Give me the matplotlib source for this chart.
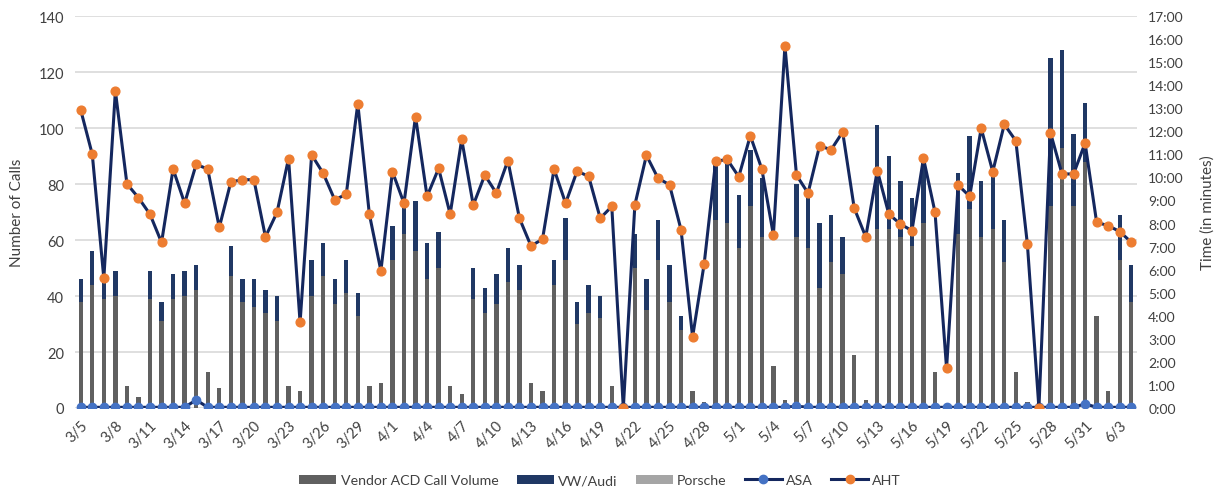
import numpy as np
import pandas as pd
import matplotlib
matplotlib.use("Agg")
import matplotlib.pyplot as plt
from matplotlib.patches import Patch
from matplotlib.lines import Line2D

plt.rcParams["font.family"] = ["Lato", "DejaVu Sans"]

# ── data ──────────────────────────────────────────────
dates = pd.date_range("2018-03-05", "2018-06-04", freq="D")
labels = [f"{d.month}/{d.day}" for d in dates]

# total calls per day (vendor + VW/Audi) and vendor part
total_calls = [46, 56, 46, 49, 8, 4, 49, 38, 48, 49, 51, 13, 7, 58, 46, 46, 42, 40, 8, 6,
               53, 59, 46, 53, 41, 8, 9, 65, 73, 74, 59, 63, 8, 5, 50, 43, 48, 57, 51, 9,
               6, 53, 68, 38, 44, 40, 8, 0, 62, 46, 67, 51, 33, 6, 2, 88, 89, 76, 92, 82,
               15, 3, 80, 77, 66, 69, 61, 19, 3, 101, 90, 81, 75, 88, 13, 0, 84, 97, 81, 85,
               67, 13, 2, 0, 125, 128, 98, 109, 33, 6, 69, 51]
vendor_acd = [38, 44, 39, 40, 8, 4, 39, 31, 39, 40, 42, 13, 7, 47, 38, 36, 34, 31, 8, 6,
              40, 47, 37, 41, 33, 8, 9, 53, 62, 56, 46, 50, 8, 5, 39, 34, 37, 45, 42, 9,
              6, 44, 53, 30, 34, 32, 8, 0, 50, 35, 53, 38, 28, 6, 2, 67, 66, 57, 72, 61,
              15, 3, 61, 57, 43, 52, 48, 19, 3, 64, 64, 61, 58, 66, 13, 0, 62, 71, 61, 64,
              52, 13, 2, 0, 72, 93, 72, 88, 33, 6, 53, 38]
porsche = [0] * len(total_calls)
vw_audi = [t - v for t, v in zip(total_calls, vendor_acd)]

# handle times in minutes
aht = [12.92, 11.0, 5.62, 13.75, 9.72, 9.12, 8.4, 7.18, 10.36, 8.88, 10.57, 10.36, 7.83, 9.8,
       9.9, 9.9, 7.42, 8.48, 10.82, 3.71, 10.98, 10.18, 9.03, 9.27, 13.2, 8.41, 5.95, 10.25,
       8.88, 12.64, 9.18, 10.39, 8.41, 11.65, 8.8, 10.1, 9.32, 10.73, 8.23, 7.03, 7.32, 10.36,
       8.88, 10.28, 10.04, 8.23, 8.74, 0.0, 8.81, 10.96, 9.97, 9.68, 7.73, 3.08, 6.24, 10.7,
       10.78, 10.03, 11.81, 10.36, 7.5, 15.7, 10.1, 9.32, 11.37, 11.2, 11.97, 8.67, 7.42,
       10.3, 8.41, 7.98, 7.69, 10.83, 8.49, 1.72, 9.67, 9.18, 12.13, 10.25, 12.3, 11.59,
       7.11, 0.0, 11.94, 10.15, 10.15, 11.49, 8.05, 7.91, 7.65, 7.19]
asa = [0.03] * len(aht)
asa[10] = 0.35
asa[87] = 0.18
asa[62] = 0.08

# ── colours ───────────────────────────────────────────
C_VENDOR = "#606060"
C_VW = "#203864"
C_PORSCHE = "#A5A5A5"
C_LINE = "#14275E"
C_ASA = "#4472C4"
C_AHT = "#ED7D31"
C_GRID = "#D9D9D9"

x = np.arange(len(labels))

fig = plt.figure(figsize=(12.25, 4.89), dpi=100)
ax = fig.add_axes([0.0612, 0.1636, 0.8670, 0.8016])
ax2 = ax.twinx()

w = 0.38
ax.bar(x, vendor_acd, w, color=C_VENDOR, zorder=2)
ax.bar(x, vw_audi, w, bottom=vendor_acd, color=C_VW, zorder=2)
ax.bar(x, porsche, w, bottom=total_calls, color=C_PORSCHE, zorder=2)

ax.set_ylim(0, 140)
ax.set_yticks(range(0, 141, 20))
ax.set_xlim(-0.5, len(labels) - 0.5)
ax.grid(axis="y", color=C_GRID, linewidth=1.2, zorder=0)
ax.set_axisbelow(True)

ax2.plot(x, asa, color=C_LINE, linewidth=2.2, marker="o", markersize=6,
         markerfacecolor=C_ASA, markeredgecolor=C_ASA, zorder=3)
ax2.plot(x, aht, color=C_LINE, linewidth=2.2, marker="o", markersize=6.3,
         markerfacecolor=C_AHT, markeredgecolor=C_AHT, zorder=4)
ax2.set_ylim(0, 17)
ax2.set_yticks(range(0, 18))
ax2.set_yticklabels([f"{m}:00" for m in range(0, 18)])
ax2.set_xlim(-0.5, len(labels) - 0.5)

ax.set_xticks(x[::3])
ax.set_xticklabels(labels[::3], rotation=45, ha="right", rotation_mode="anchor")

for a in (ax, ax2):
    for s in a.spines.values():
        s.set_visible(False)
    a.tick_params(length=0, labelsize=10.5, colors="#404040")
ax.tick_params(axis="x", pad=7)
ax.tick_params(axis="y", pad=8)
ax2.tick_params(axis="y", pad=8, labelsize=10)

ax.set_ylabel("Number of Calls", fontsize=11, color="#404040", labelpad=10)
ax2.set_ylabel("Time (in minutes)", fontsize=11, color="#404040", labelpad=12)

handles = [
    Patch(facecolor=C_VENDOR, label="Vendor ACD Call Volume"),
    Patch(facecolor=C_VW, label="VW/Audi"),
    Patch(facecolor=C_PORSCHE, label="Porsche"),
    Line2D([], [], color=C_LINE, linewidth=2.2, marker="o", markersize=6,
           markerfacecolor=C_ASA, markeredgecolor=C_ASA, label="ASA"),
    Line2D([], [], color=C_LINE, linewidth=2.2, marker="o", markersize=6,
           markerfacecolor=C_AHT, markeredgecolor=C_AHT, label="AHT"),
]
leg = fig.legend(handles=handles, loc="lower center", ncol=5, frameon=False,
                 bbox_to_anchor=(0.49, -0.022), fontsize=10.2, handlelength=2.6,
                 handleheight=0.6, columnspacing=1.3, handletextpad=0.3)
for t in leg.get_texts():
    t.set_color("#404040")

fig.savefig("out.png", dpi=100)
